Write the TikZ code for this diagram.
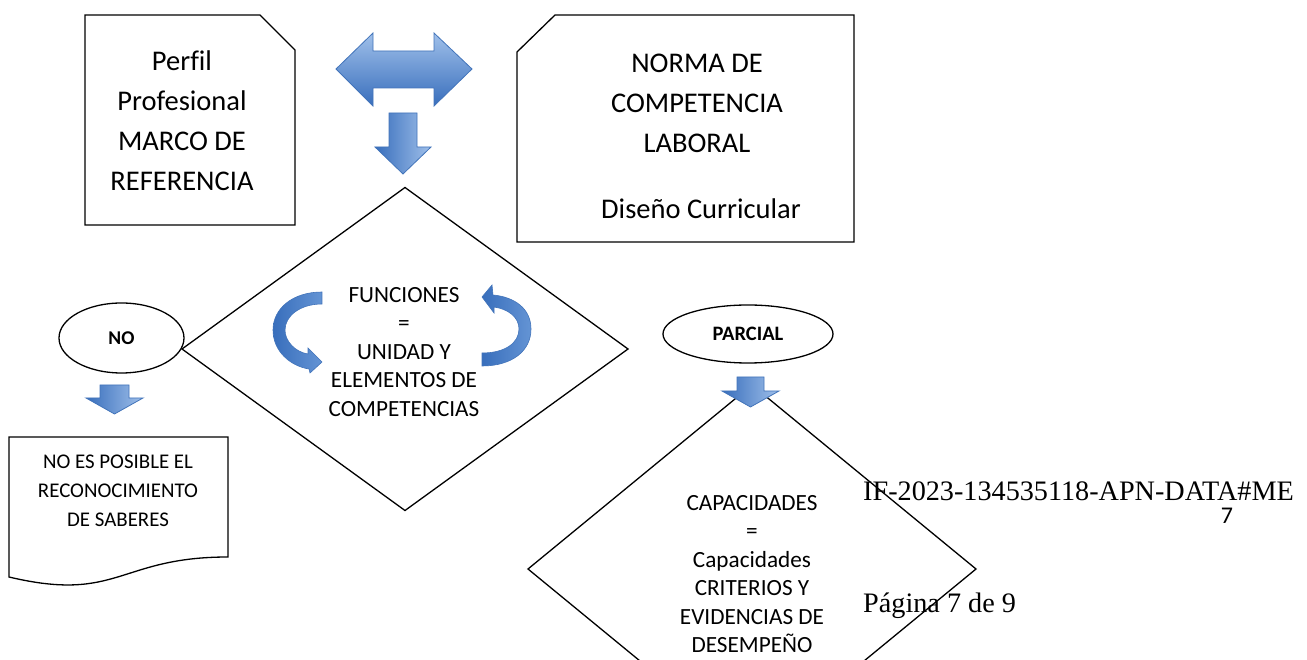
\documentclass[tikz,border=0pt]{standalone}
\usepackage{fontspec}
\setmainfont{Carlito}[Ligatures={NoCommon}]
\newfontfamily\timesf{Liberation Serif}
\usetikzlibrary{shapes.geometric}
\definecolor{arrdark}{RGB}{56,110,188}
\definecolor{arrmid}{RGB}{100,148,212}
\definecolor{arrlight}{RGB}{160,192,234}
\definecolor{arrline}{RGB}{66,116,186}
\newcommand\dnarr[7]{%
  \shadedraw[blockdown] (#2-#6,#3) -- (#2+#6,#3) -- (#2+#6,#4) -- (#2+#7,#4) -- (#2,#5) -- (#2-#7,#4) -- (#2-#6,#4) -- cycle;
  \coordinate (#1) at (#2,#5);}
\begin{document}
\begin{tikzpicture}[x=1pt,y=1pt,
  outline/.style={draw=black,line width=1.3pt,line join=miter},
  blockdown/.style={left color=arrdark,right color=arrlight,draw=arrline,line width=0.8pt},
  blockdbl/.style={top color=arrlight,bottom color=arrdark,draw=arrline,line width=0.8pt},
  curv/.style={left color=arrdark,right color=arrmid,draw=arrline,line width=0.6pt},
  oval/.style={ellipse,draw=black,line width=1.3pt,inner sep=0pt},
  boxtext/.style={align=center,font=\fontsize{28.5}{40}\selectfont,inner sep=0pt},
  dtext/.style={align=center,font=\fontsize{23.2}{28.5}\selectfont,inner sep=0pt},
  doctext/.style={align=center,font=\fontsize{20.9}{29}\selectfont,inner sep=0pt},
  serif/.style={font=\timesf\fontsize{28.2}{30}\selectfont,inner sep=0pt}]
\useasboundingbox (0,0) rectangle (1307,659);
\clip (0,0) rectangle (1307,659);
\fill[white] (0,0) rectangle (1307,659);

% Box 1 (Perfil)
\coordinate (b1sw) at (85,434);
\draw[outline] (b1sw) -- (85,644) -- (260,644) -- (295,609) -- (295,434) -- cycle;
\node[boxtext] (perfil) at (182,538) {Perfil\\Profesional\\MARCO DE\\REFERENCIA};

% Box 2 (Norma)
\coordinate (b2sw) at (517,417);
\draw[outline] (b2sw) -- (517,607) -- (555,644) -- (854,644) -- (854,417) -- cycle;
\node[boxtext] (norma) at (697,556) {NORMA DE\\COMPETENCIA\\LABORAL};
\node[boxtext] (diseno) at (701,450) {Diseño Curricular};

% double arrow
\shadedraw[blockdbl] (336,590) -- (373,626) -- (373,608) -- (434,608) -- (434,626) -- (472,590)
  -- (434,553) -- (434,571) -- (373,571) -- (373,553) -- cycle;

% down arrow to diamond 1
\dnarr{a1}{403}{546}{512}{485}{14}{28}

% Diamond 1
\coordinate (d1) at (405,310);
\draw[outline] (182,310) -- (405,471.5) -- (628,310) -- (405,148.5) -- cycle;
\node[dtext] (funciones) at (404,307) {FUNCIONES\\=\\UNIDAD Y\\ELEMENTOS DE\\COMPETENCIAS};

% curved arrows
\shadedraw[curv] (322,367) .. controls (292,367) and (273,350) .. (273,329)
  .. controls (273,308) and (290,293) .. (309,290) -- (310,286) -- (322,297) -- (308,311) -- (308,305)
  .. controls (295,307) and (285,318) .. (285,329)
  .. controls (285,343) and (300,355) .. (322,355) -- cycle;
\shadedraw[curv] (482,293) .. controls (512,293) and (531,308) .. (531,330)
  .. controls (531,350) and (515,362) .. (493,364) -- (492,374) -- (482,362) -- (494,346) -- (494,352)
  .. controls (508,350) and (519,342) .. (519,330)
  .. controls (519,316) and (505,306) .. (482,306) -- cycle;

% NO
\node[oval,minimum width=125pt,minimum height=70pt] (no) at (121.5,321) {};
\node[font=\bfseries\fontsize{19.5}{22}\selectfont] (notext) at (no.center) {NO};
\dnarr{a2}{114.5}{274}{261}{245}{14.5}{28.5}

% document shape
\draw[outline] (9,82) -- (9,222) -- (228,222) -- (228,102)
  .. controls (118.5,102) and (118.5,56) .. (9,82) -- cycle;
\node[doctext] (nosaberes) at (118,168) {NO ES POSIBLE EL\\RECONOCIMIENTO\\DE SABERES};

% PARCIAL
\node[oval,minimum width=170pt,minimum height=58pt] (parcial) at (748,325) {};
\node[font=\bfseries\fontsize{20.5}{22}\selectfont] (partext) at (parcial.center) {PARCIAL};

% Diamond 2
\draw[outline] (528,90) -- (752,274) -- (976,90) -- (752,-94) -- cycle;
\dnarr{a3}{750.5}{282}{268}{252}{13.5}{28.5}
\node[dtext] (capac) at (752,85) {CAPACIDADES\\=\\Capacidades\\CRITERIOS Y\\EVIDENCIAS DE\\DESEMPEÑO};

% footer texts
\node[serif,anchor=base west] (ifcode) at (863,158) {IF-2023-134535118-APN-DATA\#ME};
\node[font=\fontsize{24}{26}\selectfont,inner sep=0pt] (seven) at (1227,143.5) {7};
\node[serif,anchor=base west] (pagina) at (863,46) {Página 7 de 9};
\end{tikzpicture}
\end{document}
